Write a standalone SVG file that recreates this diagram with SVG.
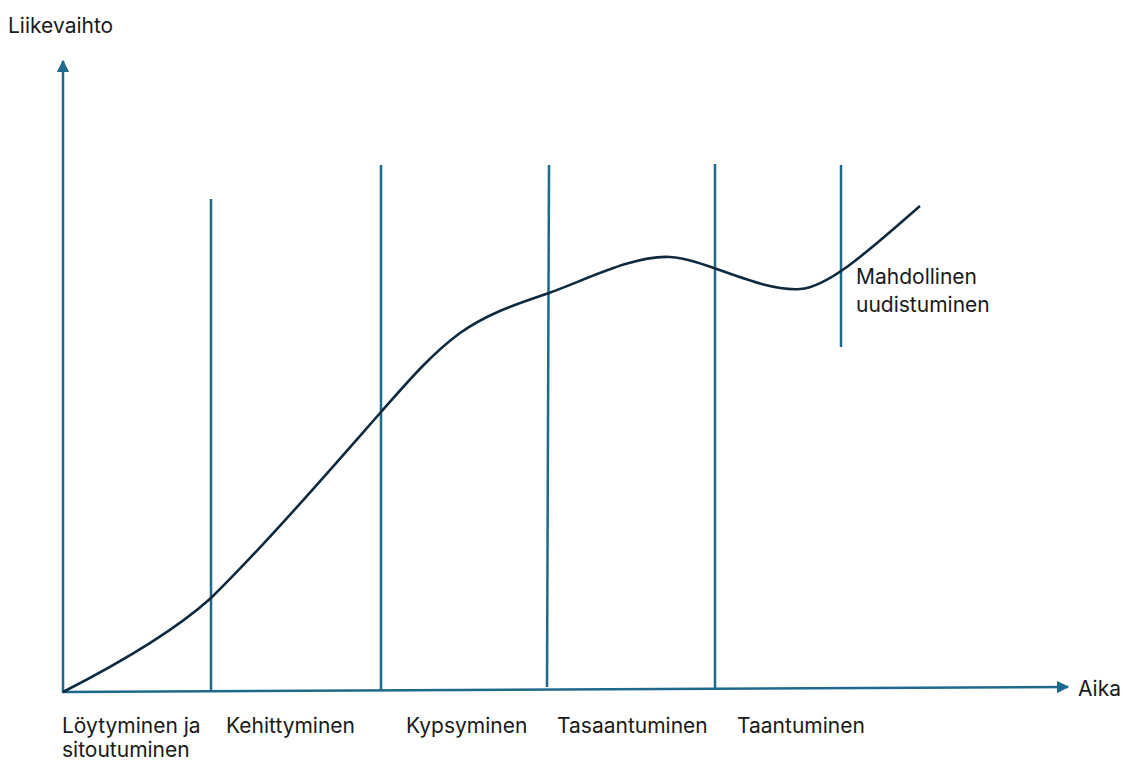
<svg xmlns="http://www.w3.org/2000/svg" width="1123" height="763" viewBox="0 0 1123 763">
<style>
.ax{stroke:#1f6a8c;stroke-width:2.5;fill:none}
.div{stroke:#1f6a8c;stroke-width:2.5;fill:none}
.curve{stroke:#0f2a3e;stroke-width:2.6;fill:none}
text{font-family:Inter,"Liberation Sans",sans-serif;font-size:21px;fill:#1a1a1a}
</style>
<defs>
<marker id="arr" viewBox="0 0 10 10" refX="9" refY="5" markerWidth="5" markerHeight="5" markerUnits="strokeWidth" orient="auto">
<path d="M0,0 L10,5 L0,10 z" fill="#1f6a8c"/>
</marker>
</defs>
<g id="connectors">
<line class="ax" x1="63" y1="693" x2="63" y2="61" marker-end="url(#arr)"/>
<line class="ax" x1="62" y1="692" x2="1068" y2="687" marker-end="url(#arr)"/>
<line class="div" x1="211" y1="199" x2="211" y2="690"/>
<line class="div" x1="381" y1="165" x2="381" y2="691"/>
<line class="div" x1="549" y1="165" x2="547" y2="687"/>
<line class="div" x1="715" y1="164" x2="715" y2="689"/>
<line class="div" x1="841" y1="165" x2="841" y2="347"/>
<path class="curve" d="M63,692 C110,668 170,635 211,598 C265,545 330,470 381,412 C405,385 430,355 460,333 C490,312 520,303 549,293 C590,278 635,255 670,257 C705,259 760,292 800,289 C830,287 875,245 920,206"/>
</g>
<g id="label-y"><text x="8" y="33">Liikevaihto</text></g>
<g id="label-x"><text x="1078" y="696">Aika</text></g>
<g id="stage1"><text x="62" y="733">Löytyminen ja</text><text x="62" y="757">sitoutuminen</text></g>
<g id="stage2"><text x="226" y="733">Kehittyminen</text></g>
<g id="stage3"><text x="406" y="733">Kypsyminen</text></g>
<g id="stage4"><text x="557" y="733">Tasaantuminen</text></g>
<g id="stage5"><text x="737" y="733">Taantuminen</text></g>
<g id="renewal"><text x="856" y="284">Mahdollinen</text><text x="856" y="312">uudistuminen</text></g>
</svg>
